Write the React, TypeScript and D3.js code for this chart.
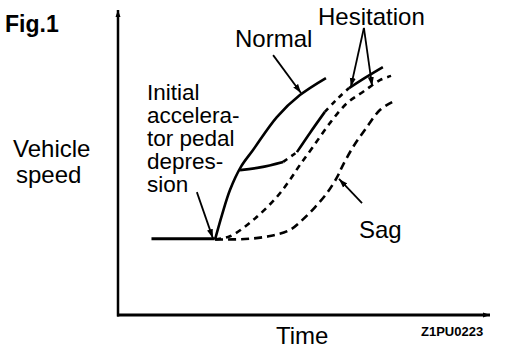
import React from "react";
import * as d3 from "d3";

// Data in arbitrary units: time 0..100, vehicle speed 0..100
const baseline: [number, number][] = [[9, 25], [26, 25]];
const normal: [number, number][] = [
  [26.1, 24.8], [28, 33], [30.1, 41], [33, 48.5], [36.3, 54.1], [42.7, 64.9], [48.9, 72.1], [55.9, 77.7],
];
const hesitationSolid: [number, number][] = [
  [32.8, 47.5], [38.2, 48.4], [44.4, 50.2], [48.1, 53.4], [51.6, 59.7], [55.6, 66.6],
  [58.9, 70.8], [62.1, 74.4], [66.7, 78], [71.2, 81.3],
];
const hesitationDashed: [number, number][] = [
  [26.1, 24.8], [30.1, 25.8], [36.3, 31.1], [42.7, 38.7], [46.2, 44.3], [48.9, 49.2],
  [52.4, 55.1], [57, 63], [61.6, 69.5], [65.9, 73.2], [70.4, 77], [73.4, 78.4],
];
const sag: [number, number][] = [
  [26.1, 24.8], [34.1, 24.9], [40.9, 25.9], [46.2, 27.9], [49.5, 31.1], [53, 35.4],
  [56.2, 40], [58.9, 45.2], [60.2, 48.5], [63.2, 55.1], [66.9, 61.6], [70.4, 67.2], [73.7, 69.8],
];
// annotation pointers: [from, to]
const pointerNormal: [number, number][] = [[41.7, 85.2], [49.2, 72.8]];
const pointerHesLeft: [number, number][] = [[66.1, 94.1], [62.6, 74.8]];
const pointerHesRight: [number, number][] = [[66.1, 94.1], [68.3, 75.1]];
const pointerSag: [number, number][] = [[65.6, 36.7], [59.4, 44.6]];
const pointerInitial: [number, number][] = [[21.2, 40.3], [25.5, 25.2]];

const initialLabel = ["Initial", "accelera-", "tor pedal", "depres-", "sion"];

export default function App() {
  const W = 512, H = 352;
  const x = d3.scaleLinear().domain([0, 100]).range([118, 490]);
  const y = d3.scaleLinear().domain([0, 100]).range([315, 10]);
  const line = d3.line<[number, number]>().x(d => x(d[0])).y(d => y(d[1])).curve(d3.curveCatmullRom.alpha(0.5));
  const straight = d3.line<[number, number]>().x(d => x(d[0])).y(d => y(d[1]));

  // segments of hesitation solid curve: solid / gap-dashed alternation
  const hesSegs: { from: number; to: number; dashed: boolean }[] = [
    { from: 0, to: 2, dashed: false },
    { from: 2, to: 3, dashed: true },
    { from: 3, to: 5, dashed: false },
    { from: 5, to: 7, dashed: true },
    { from: 7, to: 9, dashed: false },
  ];

  const font = "'Liberation Sans', Arial, Helvetica, sans-serif";
  const pointers = [pointerNormal, pointerHesLeft, pointerHesRight, pointerSag, pointerInitial];

  return (
    <svg width={W} height={H} style={{ position: "fixed", left: 0, top: 0, background: "#fff" }}>
      <defs>
        <marker id="ah" markerUnits="userSpaceOnUse" markerWidth="12" markerHeight="10" refX="9" refY="4" orient="auto">
          <path d="M0,1 L9,4 L0,7 Z" fill="#000" />
        </marker>
        <marker id="axh" markerUnits="userSpaceOnUse" markerWidth="10" markerHeight="8" refX="7" refY="3" orient="auto">
          <path d="M0,0.5 L7,3 L0,5.5 Z" fill="#000" />
        </marker>
      </defs>
      <rect width={W} height={H} fill="#fff" />
      {/* axes */}
      <line x1={x(0)} y1={y(0) + 1.5} x2={x(0)} y2={y(100)} stroke="#000" strokeWidth={2.5} markerEnd="url(#axh)" />
      <line x1={x(0) - 1} y1={y(0)} x2={x(100)} y2={y(0)} stroke="#000" strokeWidth={3} markerEnd="url(#axh)" />

      {/* baseline */}
      <path d={straight(baseline) || ""} fill="none" stroke="#000" strokeWidth={3} />
      {/* normal */}
      <path d={line(normal) || ""} fill="none" stroke="#000" strokeWidth={2.6} />
      {/* hesitation solid-ish curve */}
      {hesSegs.map((s, i) => (
        <path key={i} d={line(hesitationSolid.slice(s.from, s.to + 1)) || ""} fill="none" stroke="#000"
          strokeWidth={2.6} strokeDasharray={s.dashed ? "5 5" : undefined} />
      ))}
      {/* hesitation dashed */}
      <path d={line(hesitationDashed) || ""} fill="none" stroke="#000" strokeWidth={2.6} strokeDasharray="6 5" />
      {/* sag */}
      <path d={line(sag) || ""} fill="none" stroke="#000" strokeWidth={2.6} strokeDasharray="8 5" />

      {/* pointers */}
      {pointers.map((p, i) => (
        <path key={i} d={straight(p) || ""} fill="none" stroke="#000" strokeWidth={1.8} markerEnd="url(#ah)" />
      ))}

      {/* texts */}
      <text x={5} y={32} fontFamily={font} fontWeight="bold" fontSize={23} fill="#000">Fig.1</text>
      <text x={13} y={157} fontFamily={font} fontSize={24} fill="#000">Vehicle</text>
      <text x={16} y={183} fontFamily={font} fontSize={24} fill="#000">speed</text>
      {initialLabel.map((t, i) => (
        <text key={i} x={147} y={100 + i * 23} fontFamily={font} fontSize={22.5} fill="#000">{t}</text>
      ))}
      <text x={235} y={47} fontFamily={font} fontSize={24} fill="#000">Normal</text>
      <text x={318} y={25} fontFamily={font} fontSize={24} fill="#000">Hesitation</text>
      <text x={359} y={238} fontFamily={font} fontSize={24} fill="#000">Sag</text>
      <text x={276} y={344} fontFamily={font} fontSize={24} fill="#000">Time</text>
      <text x={421} y={336} fontFamily={font} fontWeight="bold" fontSize={13} fill="#000">Z1PU0223</text>
    </svg>
  );
}
